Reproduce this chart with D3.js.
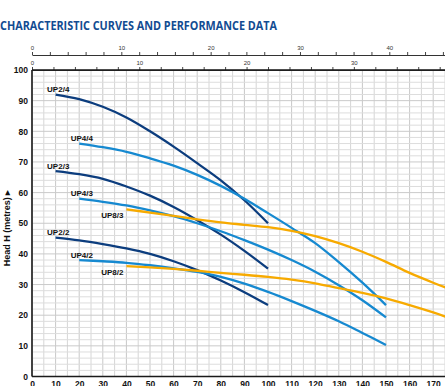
<!DOCTYPE html>
<html>
<head>
<meta charset="utf-8">
<script src="https://d3js.org/d3.v7.min.js"></script>
<style>
  body { margin: 0; background: #fff; }
  svg { display: block; }
</style>
</head>
<body>
<script>
// pump curves - flow in l/min, head in metres

var title = 'CHARACTERISTIC CURVES AND PERFORMANCE DATA';

var flowTicks = [0, 10, 20, 30, 40, 50, 60, 70, 80, 90, 100, 110, 120, 130, 140, 150, 160, 170];
var headTicks = [0, 10, 20, 30, 40, 50, 60, 70, 80, 90, 100];
var usTicks = [0, 10, 20, 30, 40];
var impTicks = [0, 10, 20, 30];

var up24Q = [10, 20, 30, 40, 50, 60, 70, 80, 90, 100];
var up24H = [92, 90.5, 88, 84.5, 80, 75, 69.6, 64, 57.5, 50];
var up23Q = [10, 20, 30, 40, 50, 60, 70, 80, 90, 100];
var up23H = [67, 66, 64.5, 62, 59, 55.3, 51, 46.3, 41, 35.2];
var up22Q = [10, 20, 30, 40, 50, 60, 70, 80, 90, 100];
var up22H = [45.3, 44.4, 43.2, 41.8, 40, 37.6, 34.7, 31.3, 27.5, 23.3];

var up44Q = [20, 30, 40, 50, 60, 70, 80, 90, 100, 110, 120, 130, 140, 150];
var up44H = [76, 74.8, 73.3, 71.2, 68.8, 65.8, 62.2, 58, 53.3, 48.5, 43.5, 37.3, 30.6, 23.3];
var up43Q = [20, 30, 40, 50, 60, 70, 80, 90, 100, 110, 120, 130, 140, 150];
var up43H = [58, 57, 55.8, 54.2, 52.3, 50, 47.4, 44.5, 41.4, 38, 34.2, 29.8, 24.9, 19.3];
var up42Q = [20, 30, 40, 50, 60, 70, 80, 90, 100, 110, 120, 130, 140, 150];
var up42H = [38, 37.6, 37.1, 36.3, 35.3, 34.1, 32.5, 30.3, 27.6, 24.6, 21.4, 18, 14.2, 10.3];

var up83Q = [40, 50, 60, 70, 80, 90, 100, 110, 120, 130, 140, 150, 160, 170, 176];
var up83H = [54.5, 53.5, 52.4, 51.3, 50.3, 49.5, 48.7, 47.5, 45.8, 43.5, 40.7, 37.4, 33.8, 30.6, 28.8];
var up82Q = [40, 50, 60, 70, 80, 90, 100, 110, 120, 130, 140, 150, 160, 170, 176];
var up82H = [36, 35.6, 35.1, 34.5, 33.8, 33.2, 32.5, 31.6, 30.4, 28.8, 27.3, 25.5, 23.3, 20.9, 19.3];

var navy = '#0c3d7e';
var blue = '#1689d0';
var orange = '#f7aa00';

var curves = [
  { name: 'UP2/4', q: up24Q, h: up24H, color: navy, side: 'left' },
  { name: 'UP4/4', q: up44Q, h: up44H, color: blue, side: 'left' },
  { name: 'UP2/3', q: up23Q, h: up23H, color: navy, side: 'left' },
  { name: 'UP4/3', q: up43Q, h: up43H, color: blue, side: 'left' },
  { name: 'UP8/3', q: up83Q, h: up83H, color: orange, side: 'below' },
  { name: 'UP2/2', q: up22Q, h: up22H, color: navy, side: 'left' },
  { name: 'UP4/2', q: up42Q, h: up42H, color: blue, side: 'left' },
  { name: 'UP8/2', q: up82Q, h: up82H, color: orange, side: 'below' }
];

var W = 445, H = 386;
// note: don't call these top/left, window.top is taken
var pL = 32, pR = 445, pT = 70, pB = 376.5;

var svg = d3.select('body').append('svg').attr('width', W).attr('height', H);

var x = d3.scaleLinear().domain([0, 175]).range([pL, pR]);
var y = d3.scaleLinear().domain([0, 100]).range([pB, pT]);
// top scales: US gpm and Imp gpm, converted from l/min
var xUS = d3.scaleLinear().domain([0, 175 / 3.785]).range([pL, pR]);
var xImp = d3.scaleLinear().domain([0, 175 / 4.546]).range([pL, pR]);

var font = '"Liberation Sans", Arial, sans-serif';

svg.append('text')
  .attr('x', 0)
  .attr('y', 29.5)
  .attr('textLength', 277)
  .attr('lengthAdjust', 'spacingAndGlyphs')
  .style('font', 'bold 13px "Open Sans", sans-serif')
  .attr('fill', '#124c92')
  .text(title);

// grid
var grid = svg.append('g');
grid.selectAll('line.v')
  .data(d3.range(0, 176, 5))
  .enter().append('line')
  .attr('class', 'v')
  .attr('x1', function(d) { return x(d); })
  .attr('x2', function(d) { return x(d); })
  .attr('y1', pT)
  .attr('y2', pB)
  .attr('stroke', function(d) { return d % 10 === 0 ? '#c8c8c8' : '#d6d6d6'; })
  .attr('stroke-width', 1);
grid.selectAll('line.h')
  .data(d3.range(0, 101, 2))
  .enter().append('line')
  .attr('class', 'h')
  .attr('x1', pL)
  .attr('x2', pR)
  .attr('y1', function(d) { return y(d); })
  .attr('y2', function(d) { return y(d); })
  .attr('stroke', function(d) { return d % 10 === 0 ? '#cacaca' : '#dddddd'; })
  .attr('stroke-width', 1);

// curves
var line = d3.line()
  .x(function(d) { return x(d[0]); })
  .y(function(d) { return y(d[1]); })
  .curve(d3.curveCatmullRom.alpha(0.5));

svg.append('clipPath').attr('id', 'plot')
  .append('rect').attr('x', pL).attr('y', pT).attr('width', pR - pL).attr('height', pB - pT);

var g = svg.append('g').attr('clip-path', 'url(#plot)');
curves.forEach(function(c) {
  var pts = c.q.map(function(q, i) { return [q, c.h[i]]; });
  g.append('path')
    .datum(pts)
    .attr('d', line)
    .attr('fill', 'none')
    .attr('stroke', c.color)
    .attr('stroke-width', 2.3);
});

// labels near the start of each curve
svg.selectAll('text.lbl')
  .data(curves)
  .enter().append('text')
  .attr('class', 'lbl')
  .attr('x', function(d) { return d.side === 'left' ? x(d.q[0]) - 8.5 : x(d.q[0]) - 3; })
  .attr('y', function(d) { return d.side === 'left' ? y(d.h[0]) - 2.5 : y(d.h[0]) + 9; })
  .attr('text-anchor', function(d) { return d.side === 'left' ? 'start' : 'end'; })
  .style('font', 'bold 8px ' + font)
  .attr('fill', '#111')
  .text(function(d) { return d.name; });

// axes
var axLeft = svg.append('g')
  .attr('transform', 'translate(' + pL + ',0)')
  .call(d3.axisLeft(y).tickValues(headTicks).tickSize(0).tickPadding(4));
var axBottom = svg.append('g')
  .attr('transform', 'translate(0,' + pB + ')')
  .call(d3.axisBottom(x).tickValues(flowTicks).tickSize(0).tickPadding(4));
[axLeft, axBottom].forEach(function(a) {
  a.select('.domain').remove();
  a.selectAll('text').style('font', 'bold 8.5px ' + font).attr('fill', '#111');
});

var axUS = svg.append('g')
  .attr('transform', 'translate(0,55)')
  .call(d3.axisTop(xUS).tickValues(d3.range(0, 47, 2)).tickSizeInner(3).tickSizeOuter(0).tickPadding(2)
    .tickFormat(function(d) { return usTicks.indexOf(d) >= 0 ? d : ''; }));
var axImp = svg.append('g')
  .attr('transform', 'translate(0,' + pT + ')')
  .call(d3.axisTop(xImp).tickValues(d3.range(0, 39, 2)).tickSizeInner(3).tickSizeOuter(0).tickPadding(2)
    .tickFormat(function(d) { return impTicks.indexOf(d) >= 0 ? d : ''; }));
[axUS, axImp].forEach(function(a) {
  a.select('.domain').attr('stroke', '#333').attr('stroke-width', 1);
  a.selectAll('.tick line').attr('stroke', '#444');
  a.selectAll('text').style('font', '6px ' + font).attr('fill', '#333');
});

// frame lines
svg.append('line').attr('x1', pL).attr('x2', pL).attr('y1', pT).attr('y2', pB)
  .attr('stroke', '#1a1a1a').attr('stroke-width', 1.6);
svg.append('line').attr('x1', pL).attr('x2', pR).attr('y1', pB).attr('y2', pB)
  .attr('stroke', '#1a1a1a').attr('stroke-width', 1.6);
svg.append('line').attr('x1', pL).attr('x2', pR).attr('y1', pT).attr('y2', pT)
  .attr('stroke', '#1a1a1a').attr('stroke-width', 1.6);

// y title
svg.append('text')
  .attr('transform', 'translate(10,228) rotate(-90)')
  .attr('text-anchor', 'middle')
  .style('font', 'bold 9px ' + font)
  .attr('fill', '#111')
  .text('Head H  (metres) \u25B8');
</script>
</body>
</html>
